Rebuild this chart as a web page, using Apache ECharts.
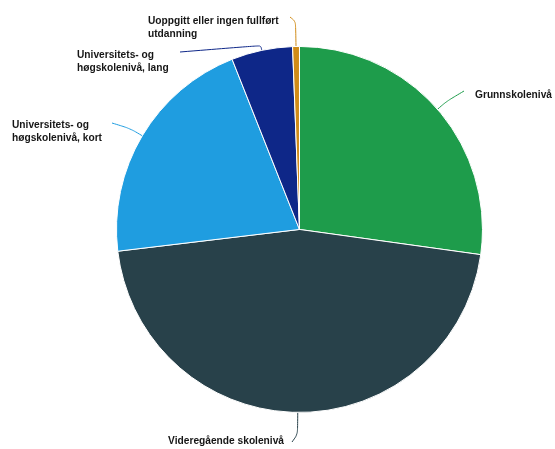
<!DOCTYPE html>
<html>
<head>
<meta charset="utf-8">
<script src="https://cdn.jsdelivr.net/npm/echarts@6/dist/echarts.min.js"></script>
<style>
html,body{margin:0;padding:0;background:#fff;}
#chart{width:555px;height:449px;}
</style>
</head>
<body>
<div id="chart"></div>
<script>
// Data (percent shares)
var categories = [
  'Grunnskolenivå',
  'Videregående skolenivå',
  'Universitets- og høgskolenivå, kort',
  'Universitets- og høgskolenivå, lang',
  'Uoppgitt eller ingen fullført utdanning'
];
var labelTexts = [
  'Grunnskolenivå',
  'Videregående skolenivå',
  'Universitets- og\nhøgskolenivå, kort',
  'Universitets- og\nhøgskolenivå, lang',
  'Uoppgitt eller ingen fullført\nutdanning'
];
var values = [27.2, 45.9, 20.9, 5.4, 0.6];
var colors = ['#1e9c4b', '#28414a', '#1f9de0', '#0e2788', '#d08b17'];

// Layout of labels (pixel positions in the 555x449 view)
var labelPlaces = [
  {x: 475, y: 95,  align: 'left',  len: 12, end: [464, 91]},
  {x: 284, y: 441, align: 'right', len: 22, end: [292, 442]},
  {x: 12,  y: 132, align: 'left',  len: 14, end: [112, 123]},
  {x: 77,  y: 62,  align: 'left',  len: 5,  end: [180, 52]},
  {x: 148, y: 28,  align: 'left',  len: 25, end: [290, 17]}
];
var centerPct = [0.5396, 0.511];

var chart = echarts.init(document.getElementById('chart'), null, {renderer: 'canvas'});
var data = categories.map(function (c, i) {
  return {
    name: c,
    value: values[i],
    itemStyle: {color: colors[i]},
    labelLine: {lineStyle: {color: colors[i]}}
  };
});

chart.setOption({
  animation: false,
  series: [{
    type: 'pie',
    center: [(centerPct[0] * 100) + '%', (centerPct[1] * 100) + '%'],
    radius: 183,
    startAngle: 90,
    clockwise: true,
    avoidLabelOverlap: false,
    minShowLabelAngle: 0,
    data: data,
    itemStyle: {borderColor: '#ffffff', borderWidth: 1},
    label: {
      show: true,
      position: 'outside',
      formatter: function (p) { return labelTexts[p.dataIndex]; },
      fontFamily: '"Liberation Sans", Arial, sans-serif',
      fontWeight: 'bold',
      fontSize: 10.2,
      lineHeight: 13,
      color: '#161616'
    },
    labelLine: {show: true, smooth: 0.3, lineStyle: {width: 1}},
    emphasis: {disabled: true},
    labelLayout: function (params) {
      var pl = labelPlaces[params.dataIndex];
      var res = {x: pl.x, y: pl.y, align: pl.align, verticalAlign: 'middle'};
      var pts = params.labelLinePoints;
      if (pts && pts.length) {
        var a = pts[0];
        var cx = chart.getWidth() * centerPct[0];
        var cy = chart.getHeight() * centerPct[1];
        var dx = a[0] - cx, dy = a[1] - cy;
        var d = Math.sqrt(dx * dx + dy * dy) || 1;
        var mid = [a[0] + dx / d * pl.len, a[1] + dy / d * pl.len];
        res.labelLinePoints = [a, mid, pl.end];
      }
      return res;
    }
  }]
});
</script>
</body>
</html>
